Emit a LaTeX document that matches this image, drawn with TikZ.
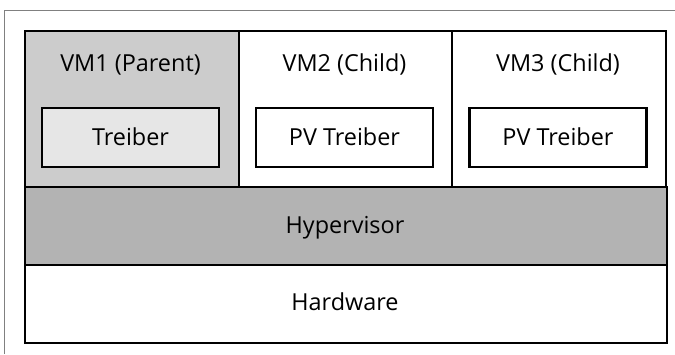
\documentclass[tikz,border=0pt]{standalone}
\usepackage{fontspec}
\setmainfont{Open Sans}
\usepackage{xcolor}
\usetikzlibrary{positioning}

\definecolor{parentgray}{HTML}{CCCCCC}
\definecolor{drivergray}{HTML}{E6E6E6}
\definecolor{hypgray}{HTML}{B3B3B3}

\tikzset{
  layer/.style={draw, line width=2.2bp, inner sep=0pt, anchor=north west},
  vmbox/.style={layer, minimum width=213.5bp, minimum height=155.5bp},
  drvbox/.style={draw, line width=2.2bp, inner sep=0pt, minimum width=177bp, minimum height=59bp},
  wide/.style={layer, minimum width=642bp, minimum height=78bp},
  txt/.style={anchor=base, inner sep=0pt}
}

\begin{document}
\begin{tikzpicture}[x=1bp, y=-1bp, font=\fontsize{23.5}{26}\selectfont]
\useasboundingbox (0,0) rectangle (675,354);
%
\draw[gray, line width=0.8bp] (4,354) |- (675,10);
%
\node (VM1) [vmbox, fill=parentgray] at (24,30) {};
\node (VM2) [vmbox] at (237.5,30) {};
\node (VM3) [vmbox] at (451,30) {};
\node (Hyp) [wide, fill=hypgray] at (24,185.5) {};
\node (HW) [wide] at (24,263.5) {};
%
\node (HypT) [txt] at (345,233) {Hypervisor};
\node (HWT) [txt] at (345,310) {Hardware};
%
\node (T1) [txt] at (130.5,71) {VM1 (Parent)};
\node (T2) [txt] at (344.5,71) {VM2 (Child)};
\node (T3) [txt] at (558,71) {VM3 (Child)};
%
\node (D1) [drvbox, fill=drivergray] at (130.5,137.5) {};
\node (D2) [drvbox, fill=white] at (344.5,137.5) {};
\node (D3) [drvbox, fill=white] at (558,137.5) {};
\node (D1T) [txt] at (130.5,145) {Treiber};
\node (D2T) [txt] at (344.5,145) {PV Treiber};
\node (D3T) [txt] at (558,145) {PV Treiber};
\end{tikzpicture}
\end{document}
